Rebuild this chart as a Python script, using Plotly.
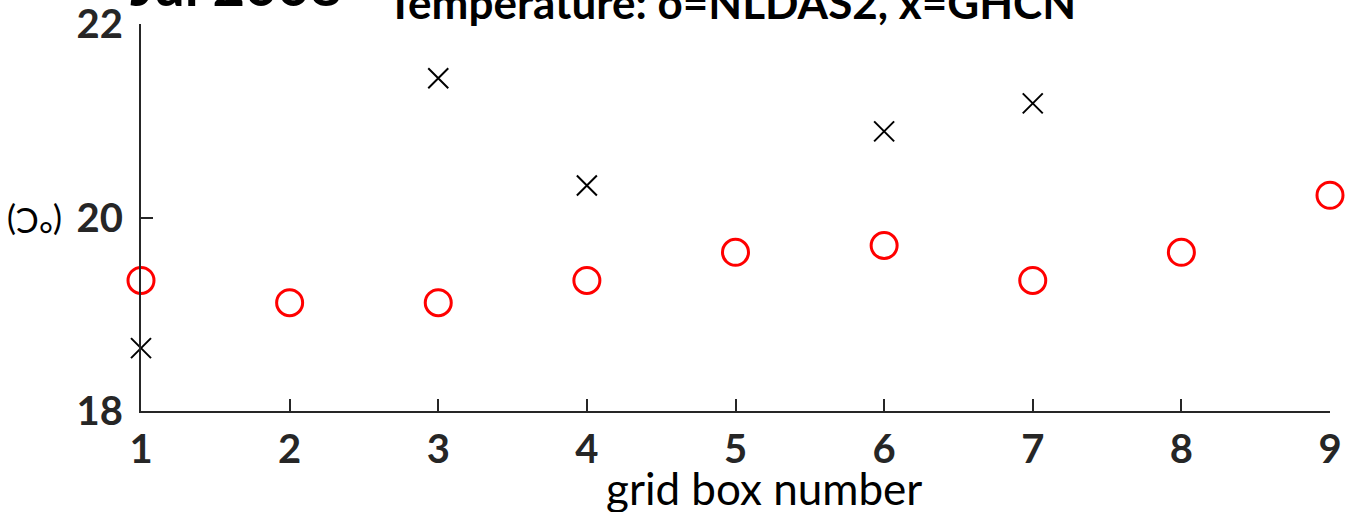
import plotly.graph_objects as go

# Grid boxes and monthly mean temperatures (deg C)
grid_box = [1, 2, 3, 4, 5, 6, 7, 8, 9]
nldas2_temp = [19.35, 19.12, 19.12, 19.35, 19.64, 19.71, 19.35, 19.64, 20.23]
ghcn_temp = [18.65, None, 21.44, 20.33, None, 20.89, 21.18, None, None]

x_ticks = [1, 2, 3, 4, 5, 6, 7, 8, 9]
y_ticks = [18, 20, 22]

W, H = 1346, 512
L, R, T, B = 141, 16, 24, 101
PW, PH = W - L - R, H - T - B


def px(x):
    return (x - L) / PW


def py(y):
    return (H - B - y) / PH


AX = "#262626"
TICKFONT = dict(family="Lato", size=40, color=AX, weight="bold")

fig = go.Figure()
fig.add_trace(go.Scatter(
    x=grid_box, y=nldas2_temp, mode="markers", name="NLDAS2",
    marker=dict(symbol="circle-open", size=26, color="#ff0000",
                line=dict(width=3, color="#ff0000")),
    cliponaxis=False,
))
fig.add_trace(go.Scatter(
    x=grid_box, y=ghcn_temp, mode="markers", name="GHCN",
    marker=dict(symbol="x-thin-open", size=20, color="#000000",
                line=dict(width=2, color="#000000")),
    cliponaxis=False,
))

fig.update_layout(
    width=W, height=H,
    margin=dict(l=L, r=R, t=T, b=B, pad=0),
    paper_bgcolor="white", plot_bgcolor="white",
    showlegend=False,
    xaxis=dict(range=[1, 9], tickvals=x_ticks, ticktext=[str(v) for v in x_ticks],
               showgrid=False, zeroline=False, showline=True, linecolor=AX, linewidth=2,
               ticks="inside", ticklen=12, tickwidth=2, tickcolor=AX,
               tickfont=TICKFONT, ticklabelstandoff=2, automargin=False,
               ticklabeloverflow="allow"),
    yaxis=dict(range=[18, 22], tickvals=y_ticks, ticktext=[str(v) for v in y_ticks],
               showgrid=False, zeroline=False, showline=True, linecolor=AX, linewidth=2,
               ticks="inside", ticklen=12, tickwidth=2, tickcolor=AX,
               tickfont=TICKFONT, ticklabelstandoff=8, automargin=False,
               ticklabeloverflow="allow"),
)

# Titles and axis labels
fig.add_annotation(text="Temperature: o=NLDAS2, x=GHCN", xref="paper", yref="paper",
                   x=px(731), y=py(30), xanchor="center", yanchor="bottom", showarrow=False,
                   font=dict(family="Lato", size=44, color="#000000", weight="bold"))
fig.add_annotation(text="Jul 2008", xref="paper", yref="paper",
                   x=px(128), y=py(20), xanchor="left", yanchor="bottom", showarrow=False,
                   font=dict(family="Lato", size=56, color="#000000", weight="bold"))
fig.add_annotation(text="grid box number", xref="paper", yref="paper",
                   x=px(764), y=py(488), xanchor="center", yanchor="middle", showarrow=False,
                   font=dict(family="Lato", size=44, color="#000000"))
fig.add_annotation(text="(°C)", xref="paper", yref="paper", textangle=180,
                   x=px(35), y=py(222), xanchor="center", yanchor="middle", showarrow=False,
                   font=dict(family="Lato", size=34, color="#000000"))

fig.write_html("out.html")
